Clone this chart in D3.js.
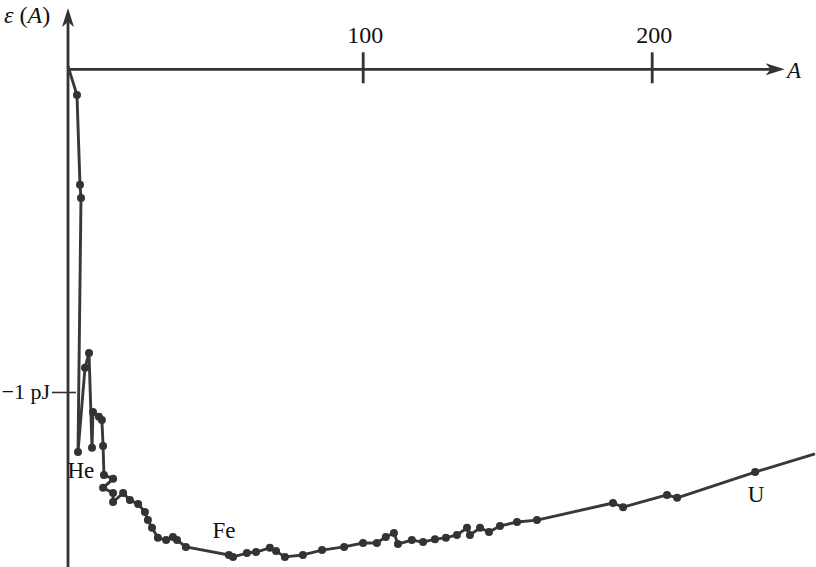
<!DOCTYPE html>
<html>
<head>
<meta charset="utf-8">
<script src="https://cdn.jsdelivr.net/npm/d3@7"></script>
<style>
  html, body { margin: 0; padding: 0; background: #fff; }
  svg { display: block; }
  text { font-family: "Liberation Serif", "DejaVu Serif", serif; fill: #111; }
</style>
</head>
<body>
<svg id="chart" width="816" height="567"></svg>
<script>
// Mass number A of each plotted nucleus (in path order, as traced)
const massNumbers = [0, 3.05, 4.07, 4.41, 3.39, 5.77, 7.13, 8.14, 8.48, 10.5, 11.5, 11.9, 12.2, 15.3, 11.9, 15.3, 15.3,
  18.7, 21.0, 23.8, 26.1, 27.1, 28.5, 30.5, 33.3, 35.6, 37.0, 40.0, 54.6, 56.0, 60.7, 63.8, 68.5, 70.6, 73.6,
  79.7, 86.2, 93.7, 100.1, 104.9, 108.0, 110.8, 112.2, 117.0, 120.9, 125.0, 128.8, 132.6, 136.1, 137.1, 140.6,
  143.7, 147.5, 153.4, 160.3, 186.6, 190.1, 205.3, 208.8, 235.8, 256.5];
// Binding energy per nucleon epsilon(A) in pJ
const epsilonValues = [0.01, -0.080, -0.358, -0.399, -1.186, -0.925, -0.879, -1.173, -1.062, -1.077, -1.087, -1.167,
  -1.257, -1.269, -1.297, -1.313, -1.341, -1.313, -1.335, -1.347, -1.372, -1.397, -1.421, -1.452, -1.459, -1.449,
  -1.459, -1.480, -1.505, -1.511, -1.499, -1.496, -1.483, -1.493, -1.511, -1.505, -1.490, -1.480, -1.468, -1.468,
  -1.449, -1.437, -1.471, -1.459, -1.465, -1.456, -1.452, -1.443, -1.421, -1.443, -1.421, -1.434, -1.415, -1.403,
  -1.397, -1.344, -1.357, -1.319, -1.328, -1.248, -1.192];
// which points carry a dot (the first origin point and the last line end carry none)
const hasDot = massNumbers.map((d, i) => i > 0 && i < massNumbers.length - 1);

const xTickValues = [100, 200];
const xTickLabels = ["100", "200"];
const yTickValues = [-1];
const yTickLabels = ["\u22121 pJ"];

const elementLabels = ["He", "Fe", "U"];
const elementA = [-0.2, 49.0, 233.2];
const elementEps = [-1.267, -1.453, -1.342];

const svg = d3.select("#chart");

const x = d3.scaleLinear().domain([0, 100, 200, 250]).range([68, 362.7, 651.7, 796.2]);
const y = d3.scaleLinear().domain([0, -1]).range([69.3, 392]);

const axisColor = "#333";

// Y axis line with arrow
svg.append("line")
  .attr("x1", x(0)).attr("x2", x(0))
  .attr("y1", 567).attr("y2", 20)
  .attr("stroke", axisColor).attr("stroke-width", 2.8);
svg.append("path")
  .attr("d", `M${x(0)},8 L${x(0) - 6},27 L${x(0)},22 L${x(0) + 6},27 Z`)
  .attr("fill", axisColor);

// X axis line with arrow
const xEnd = x(246);
svg.append("line")
  .attr("x1", x(0)).attr("x2", xEnd - 6)
  .attr("y1", y(0)).attr("y2", y(0))
  .attr("stroke", axisColor).attr("stroke-width", 2.8);
svg.append("path")
  .attr("d", `M${xEnd},${y(0)} L${xEnd - 19},${y(0) - 6} L${xEnd - 14},${y(0)} L${xEnd - 19},${y(0) + 6} Z`)
  .attr("fill", axisColor);

// X ticks via d3 axis
const xAxis = d3.axisTop(x)
  .tickValues(xTickValues)
  .tickFormat((d, i) => xTickLabels[i])
  .tickSizeInner(17)
  .tickSizeOuter(0)
  .tickPadding(10);
const gx = svg.append("g").attr("transform", `translate(0,${y(0)})`).call(xAxis);
gx.select(".domain").remove();
gx.selectAll(".tick line").attr("y1", 14).attr("y2", -17)
  .attr("stroke", axisColor).attr("stroke-width", 2.8);
gx.selectAll(".tick text")
  .attr("font-family", "Liberation Serif, serif")
  .attr("font-size", 24).attr("fill", "#111")
  .attr("dy", 0).attr("y", -26)
  .attr("dx", 2);

// Y ticks via d3 axis
const yAxis = d3.axisLeft(y)
  .tickValues(yTickValues)
  .tickFormat((d, i) => yTickLabels[i])
  .tickSizeInner(16)
  .tickSizeOuter(0)
  .tickPadding(2);
const gy = svg.append("g").attr("transform", `translate(${x(0)},0)`).call(yAxis);
gy.select(".domain").remove();
gy.selectAll(".tick line").attr("x1", 8).attr("x2", -16)
  .attr("stroke", axisColor).attr("stroke-width", 1.6);
gy.selectAll(".tick text")
  .attr("font-family", "Liberation Serif, serif")
  .attr("font-size", 22).attr("fill", "#111")
  .attr("dy", "0.3em");

// axis titles
svg.append("text").attr("x", 4).attr("y", 23)
  .attr("font-size", 24)
  .html('<tspan font-style="italic">\u03B5</tspan> (<tspan font-style="italic">A</tspan>)');
svg.append("text").attr("x", 787).attr("y", 78)
  .attr("font-size", 23).attr("font-style", "italic").text("A");

// curve
const pts = massNumbers.map((a, i) => ({ a, e: epsilonValues[i], dot: hasDot[i] }));
const line = d3.line().x(d => x(d.a)).y(d => y(d.e));
svg.append("path").datum(pts)
  .attr("d", line)
  .attr("fill", "none")
  .attr("stroke", "#383838")
  .attr("stroke-width", 2.9)
  .attr("stroke-linejoin", "round");

svg.selectAll("circle.pt").data(pts.filter(d => d.dot)).enter()
  .append("circle").attr("class", "pt")
  .attr("cx", d => x(d.a)).attr("cy", d => y(d.e))
  .attr("r", 4).attr("fill", "#333");

// element labels
svg.selectAll("text.el").data(elementLabels).enter()
  .append("text").attr("class", "el")
  .attr("x", (d, i) => x(elementA[i]))
  .attr("y", (d, i) => y(elementEps[i]))
  .attr("font-size", 23)
  .text(d => d);
</script>
</body>
</html>
